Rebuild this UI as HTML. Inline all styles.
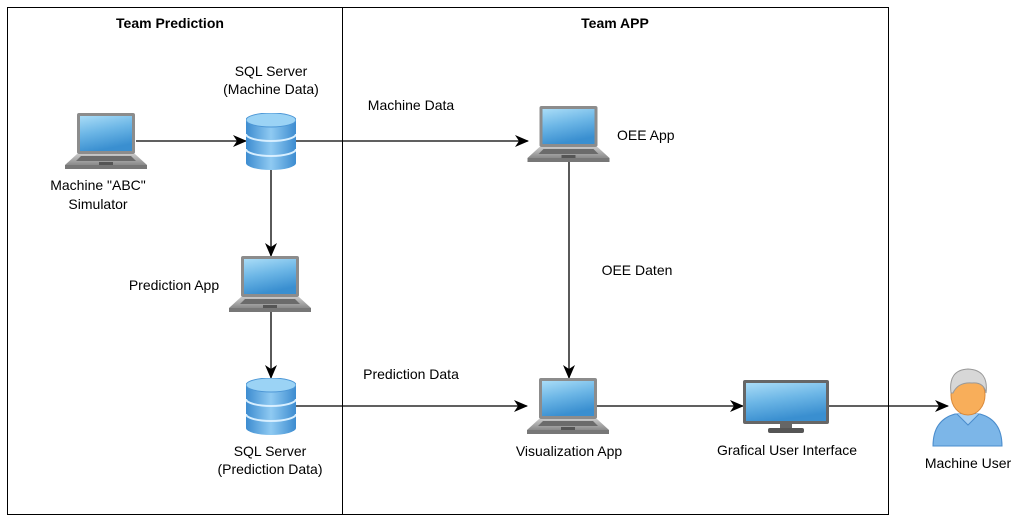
<!DOCTYPE html>
<html><head><meta charset="utf-8"><style>
html,body{margin:0;padding:0;background:#fff;}
svg{display:block;}
text{font-family:"Liberation Sans",Arial,sans-serif;font-size:14px;fill:#000;}
</style></head><body>
<svg width="1023" height="522" viewBox="0 0 1023 522" xmlns="http://www.w3.org/2000/svg">
<defs>
<linearGradient id="scr" x1="0" y1="0" x2="0.3" y2="1"><stop offset="0" stop-color="#a9dcf7"/><stop offset="0.5" stop-color="#6cb6e6"/><stop offset="1" stop-color="#3a8fd0"/></linearGradient>
<linearGradient id="db" x1="0" y1="0" x2="1" y2="0"><stop offset="0" stop-color="#3d8cd0"/><stop offset="0.5" stop-color="#8fcaf2"/><stop offset="1" stop-color="#3d8cd0"/></linearGradient>
<linearGradient id="base" x1="0" y1="0" x2="0" y2="1"><stop offset="0" stop-color="#c8c8c8"/><stop offset="1" stop-color="#8a8a8a"/></linearGradient>
<marker id="ar" markerWidth="14" markerHeight="12" refX="13" refY="6" orient="auto" markerUnits="userSpaceOnUse"><path d="M0,0 L14,6 L0,12 L4,6 Z" fill="#000"/></marker>
<symbol id="laptop" viewBox="0 0 82 56">
<rect x="12" y="0" width="58" height="41" rx="2" fill="#8c8c8c"/>
<rect x="15" y="3" width="52" height="35" fill="url(#scr)"/>
<polygon points="12,41 70,41 82,52 0,52" fill="url(#base)"/>
<polygon points="16,43 66,43 71,48 11,48" fill="#6b6b6b"/>
<rect x="34" y="49" width="14" height="3" fill="#555"/>
<rect x="0" y="52" width="82" height="4" fill="#777"/>
</symbol>
<symbol id="dbs" viewBox="0 0 50 57">
<path d="M0,7 A25,7 0 0 1 50,7 V50 A25,7 0 0 1 0,50 Z" fill="url(#db)"/>
<ellipse cx="25" cy="7" rx="25" ry="7" fill="#9bd3f5" stroke="#4d97d6" stroke-width="1"/>
<path d="M0,21 A25,7 0 0 0 50,21" fill="none" stroke="#d8efff" stroke-width="2"/>
<path d="M0,36 A25,7 0 0 0 50,36" fill="none" stroke="#d8efff" stroke-width="2"/>
</symbol>
</defs>
<rect x="7.5" y="7.5" width="881" height="507" fill="none" stroke="#000" stroke-width="1"/>
<line x1="342.5" y1="7" x2="342.5" y2="514" stroke="#000"/>
<text x="170" y="28" text-anchor="middle" font-weight="bold">Team Prediction</text>
<text x="615" y="28" text-anchor="middle" font-weight="bold">Team APP</text>

<g stroke="#000" stroke-width="1.3" fill="none" marker-end="url(#ar)">
<line x1="136" y1="141" x2="246" y2="141"/>
<line x1="296" y1="141" x2="528" y2="141"/>
<line x1="271" y1="170" x2="271" y2="256"/>
<line x1="271" y1="311" x2="271" y2="378"/>
<line x1="296" y1="406" x2="527" y2="406"/>
<line x1="569" y1="161" x2="569" y2="378"/>
<line x1="597" y1="406" x2="743" y2="406"/>
<line x1="829" y1="406" x2="948" y2="406"/>
</g>

<use href="#laptop" x="65" y="113" width="82" height="56"/>
<use href="#laptop" x="527" y="106" width="83" height="56"/>
<use href="#laptop" x="229" y="256" width="82" height="56"/>
<use href="#laptop" x="527" y="378" width="82" height="56"/>
<use href="#dbs" x="246" y="113" width="50" height="57"/>
<use href="#dbs" x="246" y="378" width="50" height="57"/>

<rect x="743" y="380" width="86" height="44" rx="2" fill="#666"/>
<rect x="746" y="383" width="80" height="38" fill="url(#scr)"/>
<rect x="780" y="424" width="12" height="5" fill="#666"/>
<rect x="768" y="428" width="36" height="5" rx="2" fill="#555"/>

<path d="M933,446 Q933,420 955,414 L980,414 Q1002,420 1002,446 Z" fill="#7cb6e8" stroke="#4a8ccc"/>
<path d="M957,414 L968,425 L979,414" fill="#a9d1f3" stroke="#4a8ccc"/>
<ellipse cx="968" cy="395" rx="17" ry="20" fill="#f8ae5a" stroke="#d9893a"/>
<path d="M951,393 Q948,370 968,369 Q989,370 986,393 Q984,382 972,383 Q958,382 953,393 Z" fill="#d7d7d7" stroke="#999"/>

<text x="98" y="190" text-anchor="middle">Machine "ABC"</text>
<text x="98" y="209" text-anchor="middle">Simulator</text>
<text x="271" y="76" text-anchor="middle">SQL Server</text>
<text x="271" y="94" text-anchor="middle">(Machine Data)</text>
<text x="411" y="110" text-anchor="middle">Machine Data</text>
<text x="617" y="140">OEE App</text>
<text x="174" y="290" text-anchor="middle">Prediction App</text>
<text x="637" y="275" text-anchor="middle">OEE Daten</text>
<text x="411" y="379" text-anchor="middle">Prediction Data</text>
<text x="270" y="456" text-anchor="middle">SQL Server</text>
<text x="270" y="474" text-anchor="middle">(Prediction Data)</text>
<text x="569" y="456" text-anchor="middle">Visualization App</text>
<text x="787" y="455" text-anchor="middle">Grafical User Interface</text>
<text x="968" y="468" text-anchor="middle">Machine User</text>
</svg>
</body></html>
